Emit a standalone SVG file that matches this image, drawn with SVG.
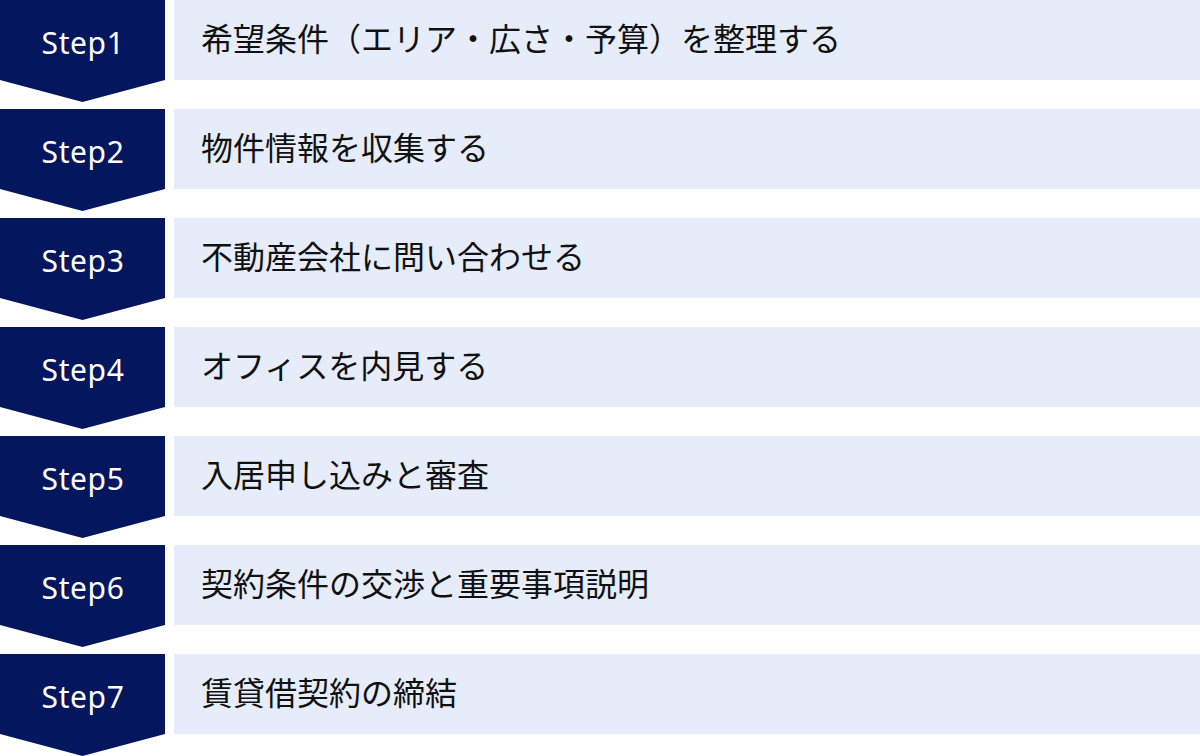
<svg xmlns="http://www.w3.org/2000/svg" width="1200" height="756" viewBox="0 0 1200 756">
<defs>
<style>
.bg{fill:#ffffff}
.badge{fill:#04165e}
.bar{fill:#e6ecf9}
.lbl{font-family:"Noto Sans","Noto Sans CJK JP",sans-serif;font-size:30px;fill:#ffffff;text-anchor:middle;letter-spacing:0.6px}
.txt{font-family:"Noto Sans CJK JP","Noto Sans",sans-serif;font-size:32px;fill:#111111}
</style>
<path id="chev" d="M0 0H165V80L82.5 102L0 80Z"/>
</defs>
<rect class="bg" x="0" y="0" width="1200" height="756"/>
<g id="step1" transform="translate(0,0)">
<use href="#chev" class="badge"/><rect class="bar" x="174" y="0" width="1026" height="80"/>
<text class="lbl" x="83" y="54">Step1</text><text class="txt" x="201" y="51">希望条件（エリア・広さ・予算）を整理する</text>
</g>
<g id="step2" transform="translate(0,109)">
<use href="#chev" class="badge"/><rect class="bar" x="174" y="0" width="1026" height="80"/>
<text class="lbl" x="83" y="54">Step2</text><text class="txt" x="201" y="51">物件情報を収集する</text>
</g>
<g id="step3" transform="translate(0,218)">
<use href="#chev" class="badge"/><rect class="bar" x="174" y="0" width="1026" height="80"/>
<text class="lbl" x="83" y="54">Step3</text><text class="txt" x="201" y="51">不動産会社に問い合わせる</text>
</g>
<g id="step4" transform="translate(0,327)">
<use href="#chev" class="badge"/><rect class="bar" x="174" y="0" width="1026" height="80"/>
<text class="lbl" x="83" y="54">Step4</text><text class="txt" x="201" y="51">オフィスを内見する</text>
</g>
<g id="step5" transform="translate(0,436)">
<use href="#chev" class="badge"/><rect class="bar" x="174" y="0" width="1026" height="80"/>
<text class="lbl" x="83" y="54">Step5</text><text class="txt" x="201" y="51">入居申し込みと審査</text>
</g>
<g id="step6" transform="translate(0,545)">
<use href="#chev" class="badge"/><rect class="bar" x="174" y="0" width="1026" height="80"/>
<text class="lbl" x="83" y="54">Step6</text><text class="txt" x="201" y="51">契約条件の交渉と重要事項説明</text>
</g>
<g id="step7" transform="translate(0,654)">
<use href="#chev" class="badge"/><rect class="bar" x="174" y="0" width="1026" height="80"/>
<text class="lbl" x="83" y="54">Step7</text><text class="txt" x="201" y="51">賃貸借契約の締結</text>
</g>
<g id="connectors"/>
</svg>
